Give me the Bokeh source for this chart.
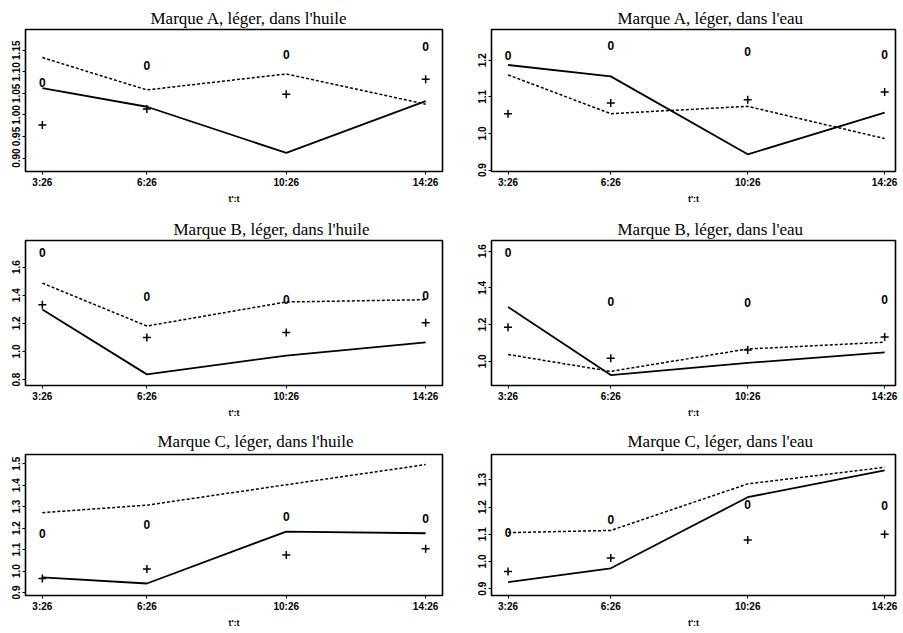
from bokeh.plotting import figure
from bokeh.layouts import column, row
from bokeh.models import FixedTicker, Range1d, PrintfTickFormatter, ColumnDataSource
from bokeh.core.properties import value
from bokeh.embed import file_html
from bokeh.resources import INLINE

# ---------------- data ----------------
times = ["3:26", "6:26", "10:26", "14:26"]
x_label = "t':t"
zero_mark = "0"

titles = ["Marque A, léger, dans l'huile", "Marque A, léger, dans l'eau",
          "Marque B, léger, dans l'huile", "Marque B, léger, dans l'eau",
          "Marque C, léger, dans l'huile", "Marque C, léger, dans l'eau"]

a_huile_solid = [1.062, 1.019, 0.912, 1.032]
a_huile_dashed = [1.133, 1.058, 1.095, 1.025]
a_huile_zero = [1.075, 1.115, 1.141, 1.158]
a_huile_plus = [0.977, 1.014, 1.048, 1.083]
a_huile_yticks = [0.90, 0.95, 1.00, 1.05, 1.10, 1.15]
a_huile_ylim = [0.869, 1.198]

a_eau_solid = [1.187, 1.156, 0.943, 1.057]
a_eau_dashed = [1.160, 1.054, 1.074, 0.986]
a_eau_zero = [1.214, 1.240, 1.223, 1.217]
a_eau_plus = [1.054, 1.083, 1.092, 1.113]
a_eau_yticks = [0.9, 1.0, 1.1, 1.2]
a_eau_ylim = [0.896, 1.284]

b_huile_solid = [1.298, 0.837, 0.971, 1.064]
b_huile_dashed = [1.486, 1.181, 1.352, 1.368]
b_huile_zero = [1.707, 1.392, 1.368, 1.396]
b_huile_plus = [1.333, 1.099, 1.134, 1.205]
b_huile_yticks = [0.8, 1.0, 1.2, 1.4, 1.6]
b_huile_ylim = [0.758, 1.789]

b_eau_solid = [1.296, 0.925, 0.991, 1.049]
b_eau_dashed = [1.037, 0.945, 1.067, 1.104]
b_eau_zero = [1.592, 1.327, 1.318, 1.336]
b_eau_plus = [1.186, 1.016, 1.062, 1.132]
b_eau_yticks = [1.0, 1.2, 1.4, 1.6]
b_eau_ylim = [0.868, 1.658]

c_huile_solid = [0.970, 0.942, 1.184, 1.176]
c_huile_dashed = [1.272, 1.307, 1.402, 1.496]
c_huile_zero = [1.176, 1.217, 1.252, 1.244]
c_huile_plus = [0.965, 1.010, 1.075, 1.104]
c_huile_yticks = [0.9, 1.0, 1.1, 1.2, 1.3, 1.4, 1.5]
c_huile_ylim = [0.886, 1.543]

c_eau_solid = [0.924, 0.975, 1.236, 1.335]
c_eau_dashed = [1.106, 1.114, 1.285, 1.346]
c_eau_zero = [1.106, 1.156, 1.210, 1.206]
c_eau_plus = [0.963, 1.013, 1.079, 1.100]
c_eau_yticks = [0.9, 1.0, 1.1, 1.2, 1.3]
c_eau_ylim = [0.875, 1.393]

# minutes since midnight, parsed from the tick labels
x_min = [int(t.split(":")[0]) * 60 + int(t.split(":")[1]) for t in times]

SANS = "Liberation Sans"
SERIF = "Liberation Serif"


def make_panel(title, solid, dashed, zero, plus, yticks, ylim, yfmt,
               xlim, w, h, mbl, mbr, mbt, mbb, toff, tstand, tvalign):
    p = figure(width=w, height=h, output_backend="svg", toolbar_location=None,
               x_range=Range1d(*xlim), y_range=Range1d(*ylim),
               min_border_left=mbl, min_border_right=mbr,
               min_border_top=mbt, min_border_bottom=mbb,
               title=title)
    p.title.align = "left"
    p.title.vertical_align = tvalign
    p.title.offset = toff
    p.title.standoff = tstand
    p.title.text_font = SERIF
    p.title.text_font_size = "17px"
    p.title.text_font_style = "normal"
    p.title.text_color = "black"

    p.grid.visible = False
    p.outline_line_color = "black"
    p.outline_line_width = 1.6
    p.background_fill_color = "white"
    p.border_fill_color = "white"

    for ax in (p.xaxis[0], p.yaxis[0]):
        ax.axis_line_color = None
        ax.major_tick_in = 0
        ax.major_tick_out = 3
        ax.minor_tick_line_color = None
        ax.major_tick_line_color = "black"
        ax.major_label_text_font = SANS
        ax.major_label_text_font_size = "10px"
        ax.major_label_text_font_style = "bold"
        ax.major_label_text_color = "black"
        ax.major_label_standoff = 2

    p.xaxis.ticker = FixedTicker(ticks=x_min)
    p.xaxis.major_label_overrides = {m: t for m, t in zip(x_min, times)}
    p.xaxis.axis_label = x_label
    p.xaxis.axis_label_text_font = SANS
    p.xaxis.axis_label_text_font_size = "9px"
    p.xaxis.axis_label_text_font_style = "bold"
    p.xaxis.axis_label_text_color = "black"
    p.xaxis.axis_label_standoff = 3

    p.yaxis.ticker = FixedTicker(ticks=yticks)
    p.yaxis.formatter = PrintfTickFormatter(format=yfmt)
    p.yaxis.major_label_orientation = "vertical"

    src = ColumnDataSource(dict(x=x_min, solid=solid, dashed=dashed, zero=zero,
                                plus=plus, lab=[zero_mark] * len(x_min)))
    p.line("x", "solid", source=src, line_color="black", line_width=1.8)
    p.line("x", "dashed", source=src, line_color="black", line_width=1.5,
           line_dash="3 2")
    p.scatter("x", "plus", source=src, marker="cross", size=8,
              line_color="black", line_width=1.5)
    p.text("x", "zero", text="lab", source=src, text_align="center",
           text_baseline="middle", text_font=value(SANS),
           text_font_size="12px", text_font_style="bold", text_color="black")
    return p


xl_left = (177, 895)
xl_right = (177, 885)

panels = [
    (a_huile_solid, a_huile_dashed, a_huile_zero, a_huile_plus, a_huile_yticks, a_huile_ylim, "%.2f"),
    (a_eau_solid, a_eau_dashed, a_eau_zero, a_eau_plus, a_eau_yticks, a_eau_ylim, "%.1f"),
    (b_huile_solid, b_huile_dashed, b_huile_zero, b_huile_plus, b_huile_yticks, b_huile_ylim, "%.1f"),
    (b_eau_solid, b_eau_dashed, b_eau_zero, b_eau_plus, b_eau_yticks, b_eau_ylim, "%.1f"),
    (c_huile_solid, c_huile_dashed, c_huile_zero, c_huile_plus, c_huile_yticks, c_huile_ylim, "%.1f"),
    (c_eau_solid, c_eau_dashed, c_eau_zero, c_eau_plus, c_eau_yticks, c_eau_ylim, "%.1f"),
]

row_h = [210, 210, 210]
row_top = [29, 30, 34]
row_bot = [39, 33, 32]
title_stand = [3, 3, 3]
title_valign = ["bottom", "bottom", "top"]
title_off = [125, 126, 148, 126, 132, 136]

figs = []
for i, (s, d, z, pl, yt, yl, fmt) in enumerate(panels):
    r = i // 2
    left = (i % 2 == 0)
    if left:
        w, mbl, mbr, xl = 458, 25, 16, xl_left
    else:
        w, mbl, mbr, xl = 445, 33, 8, xl_right
    figs.append(make_panel(titles[i], s, d, z, pl, yt, yl, fmt, xl, w, row_h[r],
                           mbl, mbr, row_top[r], row_bot[r], title_off[i],
                           title_stand[r], title_valign[r]))

layout = column(row(figs[0], figs[1]), row(figs[2], figs[3]), row(figs[4], figs[5]))

with open("out.html", "w") as f:
    f.write(file_html(layout, INLINE))
